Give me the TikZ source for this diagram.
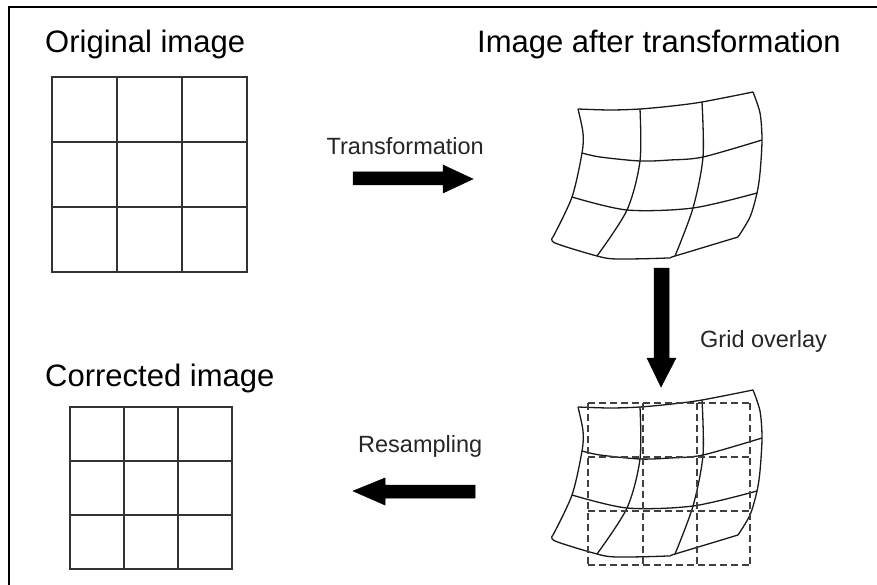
\documentclass[tikz,border=0pt]{standalone}
\usepackage{fontspec}
\setmainfont{Liberation Sans}
\begin{document}
\begin{tikzpicture}[x=1pt,y=-1pt,
  heading/.style={anchor=base west,inner sep=0pt,font=\fontsize{31}{37}\selectfont},
  label/.style={inner sep=0pt,font=\fontsize{23.5}{28}\selectfont,text=black!85},
  gridline/.style={line width=1.6pt,draw=black!80},
  warpline/.style={line width=1.3pt,draw=black!90,line join=round},
  overlay/.style={line width=1.4pt,draw=black!75,dash pattern=on 7pt off 4pt},
  blockarrow/.style={fill=black,draw=black,line width=0.5pt,line join=miter},
  frameline/.style={line width=2pt,draw=black}]
\useasboundingbox (0,0) rectangle (877,585);
\fill[white] (0,0) rectangle (877,585);
% frame
\draw[frameline] (9,585) -- (9,7) -- (877,7);

% headings
\node[heading] (orig) at (45,53) {Original image};
\node[heading] (after) at (477,53) {Image after transformation};
\node[heading] (corr) at (45,386) {Corrected image};

% original grid
\draw[gridline] (52,77) rectangle (247,272);
\foreach \x in {117,182} \draw[gridline] (\x,77) -- (\x,272);
\foreach \y in {142,207} \draw[gridline] (52,\y) -- (247,\y);

% corrected grid
\draw[gridline] (70,407) rectangle (232,569);
\foreach \x in {124,178} \draw[gridline] (\x,407) -- (\x,569);
\foreach \y in {461,515} \draw[gridline] (70,\y) -- (232,\y);

% warped grids
\foreach \dy in {0,298}{
\begin{scope}[yshift=-\dy pt]
  % rows
  \draw[warpline] plot[smooth,tension=0.5] coordinates {(578,109) (610,110) (640,109) (672,106) (702,102) (753,92)};
  \draw[warpline] plot[smooth,tension=0.5] coordinates {(582,153) (600,157) (640,161) (670,160) (703,157) (762,140)};
  \draw[warpline] plot[smooth,tension=0.5] coordinates {(572,197) (627,210) (693,208) (757,193)};
  \draw[warpline] plot[smooth,tension=0.5] coordinates {(553,237) (555,243) (597,256) (617,259) (667,258) (675,256) (738,237)};
  % columns
  \draw[warpline] plot[smooth,tension=0.5] coordinates {(578,109) (583,133) (582,153) (572,197) (553,237)};
  \draw[warpline] plot[smooth,tension=0.5] coordinates {(640,109) (640,161) (627,210) (597,256)};
  \draw[warpline] plot[smooth,tension=0.5] coordinates {(702,102) (703,157) (693,208) (675,256)};
  \draw[warpline] plot[smooth,tension=0.5] coordinates {(753,92) (760,113) (762,140) (760,173) (757,193) (750,217) (738,237)};
\end{scope}
}

% dashed overlay grid
\foreach \x in {588,643,697,750} \draw[overlay] (\x,403) -- (\x,565);
\foreach \y in {403,457,511,565} \draw[overlay] (588,\y) -- (750,\y);

% arrows
\draw[blockarrow] (353,172) -- (443,172) -- (443,165) -- (473,179) -- (443,193) -- (443,185) -- (353,185) -- cycle;
\draw[blockarrow] (654,268) -- (669,268) -- (669,358) -- (676,358) -- (661,387) -- (647,358) -- (654,358) -- cycle;
\draw[blockarrow] (475,485) -- (385,485) -- (385,478) -- (353,491) -- (385,505) -- (385,498) -- (475,498) -- cycle;

% labels
\node[label,anchor=base east] (ltrans) at (484,155) {Transformation};
\node[label,anchor=base west] (lgrid) at (700,347) {Grid overlay};
\node[label,anchor=base west] (lres) at (358,452) {Resampling};
\end{tikzpicture}
\end{document}
